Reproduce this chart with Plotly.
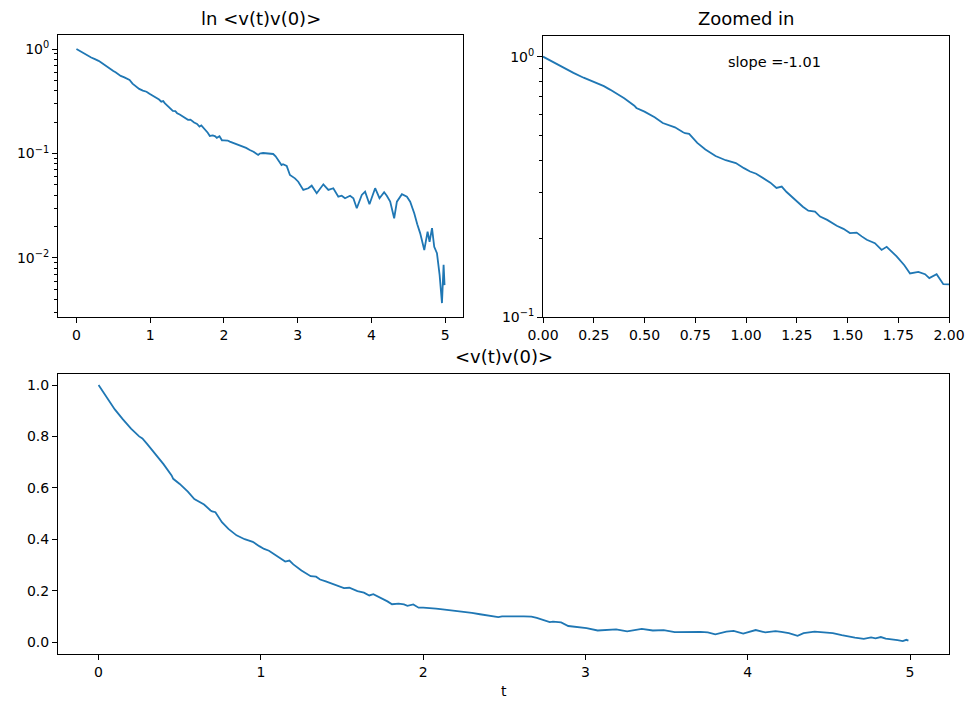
import plotly.graph_objects as go
import math

# time (t) and velocity autocorrelation <v(t)v(0)>
t = [0.00, 0.05, 0.10, 0.15, 0.20, 0.25, 0.27, 0.30, 0.33, 0.35, 0.40, 0.45, 0.46,
     0.50, 0.53, 0.55, 0.59, 0.60, 0.65, 0.69, 0.70, 0.72, 0.76, 0.80, 0.84, 0.85,
     0.90, 0.92, 0.95, 0.99, 1.02, 1.05, 1.085, 1.12, 1.15, 1.176, 1.20, 1.25, 1.28,
     1.307, 1.34, 1.365, 1.40, 1.447, 1.48, 1.512, 1.545, 1.57, 1.595, 1.635, 1.668,
     1.693, 1.742, 1.78, 1.808, 1.849, 1.882, 1.903, 1.939, 1.972, 2.00,
     2.05, 2.079, 2.12, 2.15, 2.215, 2.25, 2.30, 2.35, 2.40, 2.463, 2.486, 2.53,
     2.577, 2.62, 2.667, 2.70, 2.735, 2.78, 2.80, 2.85, 2.894, 2.962, 3.007, 3.075,
     3.143, 3.189, 3.257, 3.347, 3.415, 3.482, 3.55, 3.596, 3.641, 3.709, 3.754,
     3.80, 3.868, 3.913, 3.972, 4.049, 4.108, 4.171, 4.207, 4.253, 4.307, 4.344,
     4.412, 4.48, 4.524, 4.579, 4.62, 4.66, 4.715, 4.76, 4.787, 4.82, 4.85, 4.887,
     4.923, 4.955, 4.977, 4.99]
vacf = [1.000, 0.951, 0.905, 0.866, 0.830, 0.800, 0.792, 0.770, 0.747, 0.730, 0.692,
        0.648, 0.635, 0.615, 0.598, 0.585, 0.556, 0.552, 0.535, 0.512, 0.508, 0.505,
        0.466, 0.440, 0.420, 0.415, 0.400, 0.396, 0.390, 0.373, 0.362, 0.355, 0.341,
        0.328, 0.313, 0.317, 0.302, 0.278, 0.265, 0.256, 0.254, 0.243, 0.236, 0.224,
        0.218, 0.210, 0.211, 0.204, 0.198, 0.192, 0.181, 0.186, 0.171, 0.158, 0.147,
        0.149, 0.146, 0.141, 0.146, 0.1336, 0.1336,
        0.133, 0.130, 0.127, 0.125, 0.1206, 0.118, 0.113, 0.108, 0.104, 0.0968, 0.100,
        0.101, 0.100, 0.100, 0.0989, 0.094, 0.0867, 0.0776, 0.079, 0.076, 0.0622,
        0.0578, 0.0537, 0.0448, 0.0465, 0.0492, 0.0416, 0.0507, 0.0448, 0.0465,
        0.0386, 0.0394, 0.0373, 0.0394, 0.0373, 0.0299, 0.0401, 0.0431, 0.0327,
        0.0465, 0.0373, 0.0425, 0.0394, 0.0346, 0.0240, 0.0346, 0.0407, 0.0386,
        0.0346, 0.0268, 0.021, 0.0172, 0.0119, 0.0179, 0.0143, 0.0193, 0.0128,
        0.0111, 0.0069, 0.0037, 0.0086, 0.0055]

log_tick_vals = [0.01, 0.1, 1.0]
log_tick_text = ["10<sup>\u22122</sup>", "10<sup>\u22121</sup>", "10<sup>0</sup>"]
titles = ["ln <v(t)v(0)>", "Zoomed in", "<v(t)v(0)>"]
slope_label = "slope =-1.01"
x_label = "t"

W, H = 969, 703
LINE = "#1f77b4"
FONT = "DejaVu Sans"

def px_x(a, b):
    return [a / W, b / W]

def px_y(top, bottom):
    return [1 - bottom / H, 1 - top / H]

fig = go.Figure()
for i, ax in enumerate(["", "2", "3"]):
    fig.add_trace(go.Scatter(x=t, y=vacf, mode="lines",
                             line=dict(color=LINE, width=1.8),
                             xaxis="x" + ax, yaxis="y" + ax,
                             showlegend=False, hoverinfo="x+y"))

common = dict(showline=True, mirror=True, linecolor="black", linewidth=1,
              ticks="outside", ticklen=5, tickwidth=1, tickcolor="black",
              showgrid=False, zeroline=False, automargin=False,
              tickfont=dict(family=FONT, size=14, color="black"))
minor_log = dict(ticks="outside", ticklen=3, tickwidth=0.8, tickcolor="black",
                 dtick="D1", showgrid=False)

fig.update_layout(
    width=W, height=H, margin=dict(l=0, r=0, t=0, b=0, autoexpand=False),
    paper_bgcolor="white", plot_bgcolor="white",
    font=dict(family=FONT, color="black"),
    xaxis=dict(domain=px_x(58, 463), range=[-0.25, 5.24], dtick=1, tick0=0,
               anchor="y", **common),
    yaxis=dict(domain=px_y(35, 317), type="log", range=[-2.565, 0.134],
               tickvals=log_tick_vals, ticktext=log_tick_text,
               minor=minor_log, anchor="x", **common),
    xaxis2=dict(domain=px_x(543, 949), range=[0, 2], dtick=0.25, tick0=0,
                tickformat=".2f", anchor="y2", **common),
    yaxis2=dict(domain=px_y(36, 317), type="log", range=[-1, math.log10(1.2)],
                tickvals=log_tick_vals, ticktext=log_tick_text,
                minor=minor_log, anchor="x2", **common),
    xaxis3=dict(domain=px_x(58, 949), range=[-0.25, 5.24], dtick=1, tick0=0,
                anchor="y3", **common),
    yaxis3=dict(domain=px_y(374, 654), range=[-0.0467, 1.0428], dtick=0.2, tick0=0,
                tickformat=".1f", anchor="x3", **common),
)

ann = [
    dict(text=titles[0], x=(58 + 463) / 2 / W, y=1 - 19 / H),
    dict(text=titles[1], x=(543 + 949) / 2 / W, y=1 - 19 / H),
    dict(text=titles[2], x=(58 + 949) / 2 / W, y=1 - 357 / H),
]
for a in ann:
    fig.add_annotation(xref="paper", yref="paper", showarrow=False,
                       xanchor="center", yanchor="middle",
                       font=dict(family=FONT, size=18, color="black"), **a)
fig.add_annotation(xref="paper", yref="paper", showarrow=False, text=x_label,
                   x=(58 + 949) / 2 / W, y=1 - 691 / H, xanchor="center",
                   yanchor="middle", font=dict(family=FONT, size=14, color="black"))
fig.add_annotation(xref="x2", yref="y2", showarrow=False, text=slope_label,
                   x=0.9, y=math.log10(0.95), xanchor="left", yanchor="middle",
                   font=dict(family=FONT, size=14.5, color="black"))

fig.write_html("out.html", config={"displayModeBar": False},
               post_script="document.body.style.margin='0px';"
                           "document.body.style.overflow='hidden';")
